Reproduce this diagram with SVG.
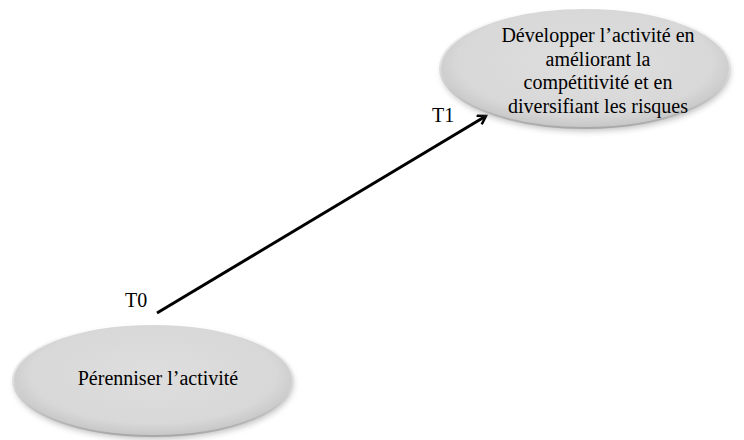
<svg xmlns="http://www.w3.org/2000/svg" width="744" height="440" viewBox="0 0 744 440">
  <style>
    .lbl { font-family: "Liberation Serif", "Times New Roman", serif; font-size: 20px; fill: #000; }
    .ctr { text-anchor: middle; }
    .conn { stroke: #000; stroke-width: 3; fill: none; }
  </style>
  <defs>
    <radialGradient id="fillG" cx="50%" cy="45%" r="55%">
      <stop offset="0%" stop-color="#dedede"/>
      <stop offset="80%" stop-color="#d8d8d8"/>
      <stop offset="100%" stop-color="#c6c6c6"/>
    </radialGradient>
    <linearGradient id="rimG" x1="0" y1="0" x2="0" y2="1">
      <stop offset="0%" stop-color="#ffffff"/>
      <stop offset="45%" stop-color="#e4e4e4"/>
      <stop offset="100%" stop-color="#a8a8a8"/>
    </linearGradient>
    <filter id="shadow" x="-20%" y="-30%" width="140%" height="160%">
      <feGaussianBlur stdDeviation="3"/>
    </filter>
    <marker id="arrow" markerWidth="12" markerHeight="12" refX="9" refY="6" orient="auto" markerUnits="userSpaceOnUse">
      <path d="M1,1 L9,6 L1,11" fill="none" stroke="#000" stroke-width="2.5" stroke-linejoin="miter"/>
    </marker>
  </defs>

  <g id="connectors">
    <line class="conn" x1="157" y1="313" x2="486" y2="116" marker-end="url(#arrow)"/>
  </g>

  <g id="node-t1">
    <ellipse cx="586" cy="72" rx="144" ry="59" fill="#8a8a8a" opacity="0.55" filter="url(#shadow)"/>
    <ellipse cx="585" cy="68" rx="145" ry="60" fill="url(#fillG)" stroke="url(#rimG)" stroke-width="2"/>
    <text class="lbl ctr" x="598" y="42">Développer l’activité en</text>
    <text class="lbl ctr" x="598" y="65.5">améliorant la</text>
    <text class="lbl ctr" x="598" y="89">compétitivité et en</text>
    <text class="lbl ctr" x="598" y="112.5">diversifiant les risques</text>
  </g>

  <g id="node-t0">
    <ellipse cx="154" cy="384" rx="139" ry="55" fill="#8a8a8a" opacity="0.55" filter="url(#shadow)"/>
    <ellipse cx="153" cy="380" rx="140" ry="56" fill="url(#fillG)" stroke="url(#rimG)" stroke-width="2"/>
    <text class="lbl ctr" x="158" y="385">Pérenniser l’activité</text>
  </g>

  <g id="labels">
    <text class="lbl" x="125" y="307">T0</text>
    <text class="lbl" x="432" y="122">T1</text>
  </g>
</svg>
